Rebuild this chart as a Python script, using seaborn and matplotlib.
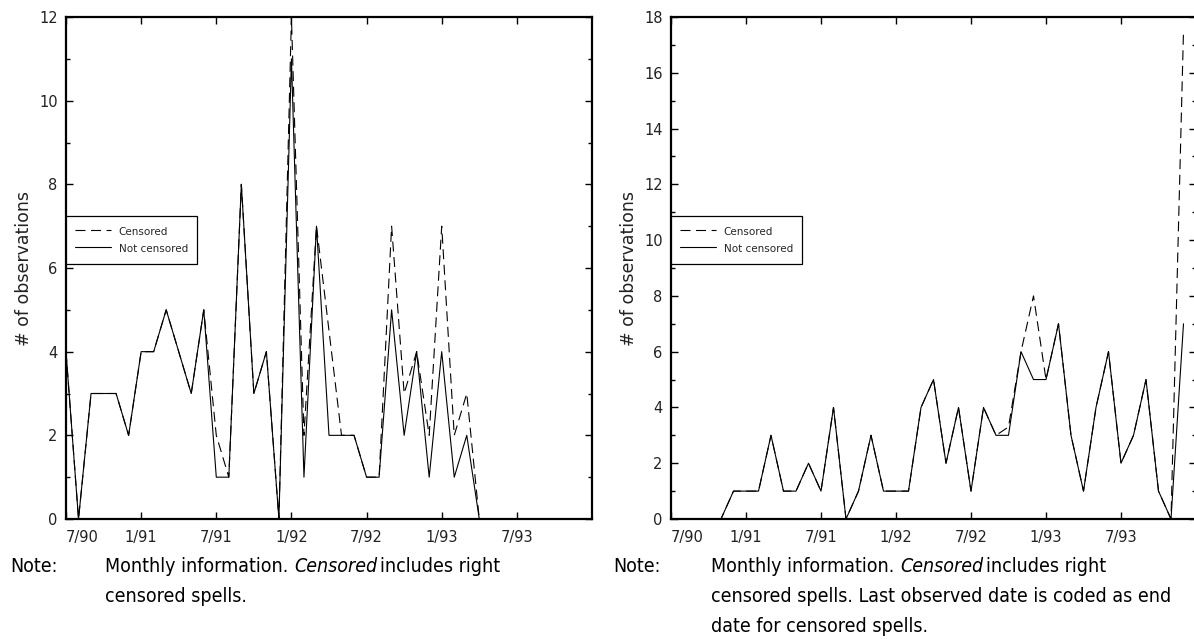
import matplotlib
matplotlib.use('Agg')
import matplotlib.pyplot as plt
import pandas as pd
import seaborn as sns
from matplotlib.ticker import MultipleLocator, FixedLocator

# months counted from 7/90 (index 0)
tick_pos = [0, 6, 12, 18, 24, 30, 36]
tick_labels = ['7/90', '1/91', '7/91', '1/92', '7/92', '1/93', '7/93']
series_names = ['Censored', 'Not censored']

# left panel
not_censored_a = [4, 0, 3, 3, 3, 2, 4, 4, 5, 4, 3, 5, 1, 1, 8, 3, 4, 0, 11, 1,
                  7, 2, 2, 2, 1, 1, 5, 2, 4, 1, 4, 1, 2, 0]
censored_a = [4, 0, 3, 3, 3, 2, 4, 4, 5, 4, 3, 5, 2, 1, 8, 3, 4, 0, 12, 2,
              7, 4.5, 2, 2, 1, 1, 7, 3, 4, 2, 7, 2, 3, 0]

# right panel
not_censored_b = [0, 0, 0, 0, 0, 1, 1, 1, 3, 1, 1, 2, 1, 4, 0, 1, 3, 1, 1, 1,
                  4, 5, 2, 4, 1, 4, 3, 3, 6, 5, 5, 7, 3, 1, 4, 6, 2, 3, 5, 1, 0, 7]
censored_b = [0, 0, 0, 0, 0, 1, 1, 1, 3, 1, 1, 2, 1, 4, 0, 1, 3, 1, 1, 1,
              4, 5, 2, 4, 1, 4, 3, 3.3, 6, 8, 5, 7, 3, 1, 4, 6, 2, 3, 5, 1, 0, 17.5]

note_a = ['Monthly information.', 'Censored', 'includes right', 'censored spells.']
note_b = ['Monthly information.', 'Censored', 'includes right',
          'censored spells. Last observed date is coded as end',
          'date for censored spells.']

sns.set_theme(style='ticks')
plt.rcParams['font.family'] = ['DejaVu Sans']
note_family = ['Liberation Sans Narrow', 'DejaVu Sans']

W, H = 1194, 639
fig = plt.figure(figsize=(W / 100, H / 100), dpi=100)


def px_axes(x0, y0, x1, y1):
    return fig.add_axes([x0 / W, 1 - y1 / H, (x1 - x0) / W, (y1 - y0) / H])


def draw_panel(ax, cens, notc, ymax):
    df = pd.DataFrame({
        'month': list(range(len(cens))) + list(range(len(notc))),
        'count': cens + notc,
        'series': [series_names[0]] * len(cens) + [series_names[1]] * len(notc),
    })
    sns.lineplot(data=df, x='month', y='count', style='series',
                 style_order=series_names,
                 dashes={'Censored': (9, 5), 'Not censored': ''},
                 color='black', linewidth=0.8, legend=False, ax=ax)
    ax.set_xlim(0, 42)
    ax.set_ylim(0, ymax)
    ax.xaxis.set_major_locator(FixedLocator(tick_pos))
    ax.set_xticklabels(tick_labels)
    ax.get_xticklabels()[0].set_horizontalalignment('left')
    ax.yaxis.set_major_locator(MultipleLocator(2))
    ax.yaxis.set_minor_locator(MultipleLocator(1))
    ax.tick_params(which='both', direction='in', top=True, right=True,
                   color='black', width=1, labelsize=10.5, labelcolor='#222222')
    ax.tick_params(which='major', length=5)
    ax.tick_params(which='minor', length=3)
    ax.tick_params(axis='x', pad=8)
    ax.tick_params(axis='y', pad=6)
    for sp in ax.spines.values():
        sp.set_visible(True)
        sp.set_linewidth(1.6)
        sp.set_color('black')
    ax.set_xlabel('')
    ax.set_ylabel('# of observations', fontsize=12.5, labelpad=4, color='#222222')
    leg = ax.legend(ax.lines[:2], series_names, loc='upper left',
                    bbox_to_anchor=(0, (519 - 216) / 502), borderaxespad=0,
                    fontsize=7.5, handlelength=3.4, handleheight=1.5,
                    handletextpad=0.75, labelspacing=0.35, borderpad=0.9,
                    fancybox=False, framealpha=1, edgecolor='black')
    leg.get_frame().set_linewidth(0.9)


def draw_note(ax, x_note, x_text, y0, parts):
    kw = dict(family=note_family, fontstretch='condensed', fontsize=14, color='black')
    fig.text(x_note / W, 1 - y0 / H, 'Note:', va='baseline', **kw)
    t1 = fig.text(x_text / W, 1 - y0 / H, parts[0], va='baseline', **kw)
    t2 = ax.annotate(parts[1], xy=(1, 0), xycoords=t1, xytext=(4, 0),
                     textcoords='offset points', va='bottom', ha='left',
                     style='italic', annotation_clip=False, **kw)
    ax.annotate(parts[2], xy=(1, 0), xycoords=t2, xytext=(2, 0),
                textcoords='offset points', va='bottom', ha='left',
                annotation_clip=False, **kw)
    for k, line in enumerate(parts[3:]):
        fig.text(x_text / W, 1 - (y0 + 30 * (k + 1)) / H, line, va='baseline', **kw)


ax_a = px_axes(66, 17, 592, 519)
ax_b = px_axes(671, 17, 1196, 519)
draw_panel(ax_a, censored_a, not_censored_a, 12)
draw_panel(ax_b, censored_b, not_censored_b, 18)

draw_note(ax_a, 10, 105, 572, note_a)
draw_note(ax_b, 613, 711, 572, note_b)

fig.savefig('out.png', dpi=100)
